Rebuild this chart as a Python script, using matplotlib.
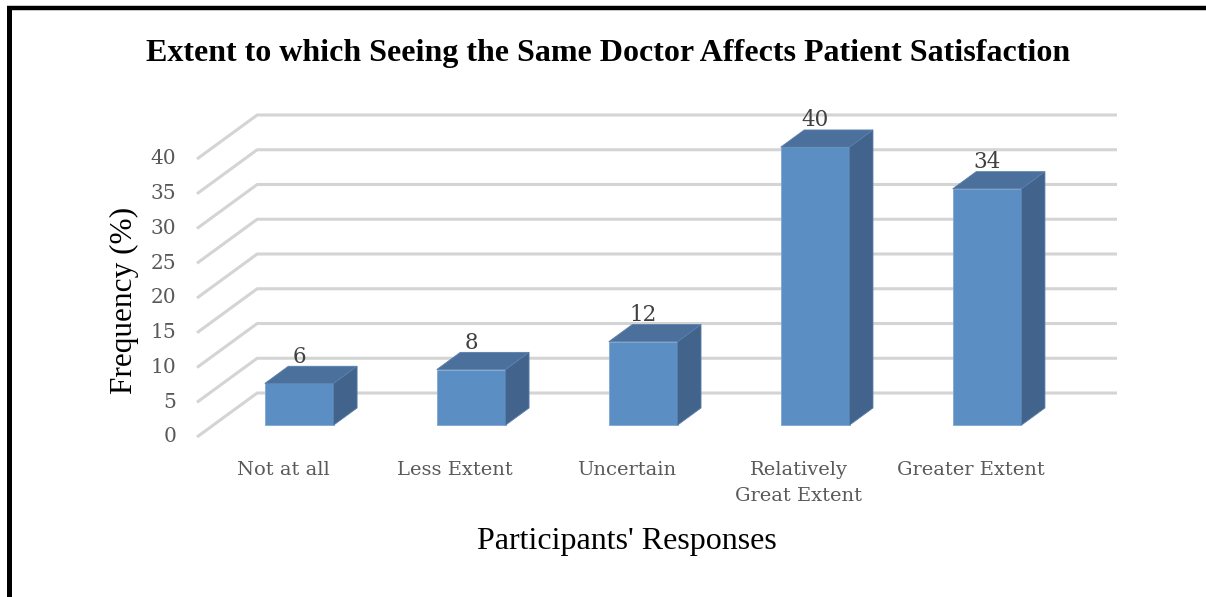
import matplotlib.pyplot as plt
from matplotlib.patches import Polygon
from matplotlib.lines import Line2D
import numpy as np

categories = ['Not at all', 'Less Extent', 'Uncertain', 'Relatively\nGreat Extent', 'Greater Extent']
values = [6, 8, 12, 40, 34]
yticks = [0, 5, 10, 15, 20, 25, 30, 35, 40]

# oblique projection: full depth of the floor in data units
dx = 0.35
dy = 6.33
f0, f1 = 0.27, 0.66   # bar depth (front, back) as a fraction of the floor depth
w = 0.40

front_c = '#5b8fc4'
top_c = '#4a709b'
side_c = '#41638c'
grid_c = '#d4d4d4'
txt_c = '#595959'

fig = plt.figure(figsize=(12.06, 5.97), dpi=100)
ax = fig.add_axes([197 / 1206, 1 - 437 / 597, 920 / 1206, 322 / 597])
ax.set_xlim(-0.5, 4.5 + dx)
ax.set_ylim(0, 40 + dy)
ax.axis('off')

# floor diagonals and back wall lines
for v in yticks:
    ax.plot([-0.5, -0.5 + dx, 4.5 + dx], [v, v + dy, v + dy],
            color=grid_c, lw=2.2, solid_capstyle='butt', clip_on=False, zorder=1)
    ax.annotate(str(v), xy=(-0.5, v), xytext=(-15, 0), textcoords='offset points',
                ha='right', va='center', fontsize=14.5, color=txt_c,
                family='DejaVu Serif', annotation_clip=False)

x = np.arange(len(values))
xf = x + f0 * dx - w / 2
bars = ax.bar(x + f0 * dx, values, width=w, bottom=f0 * dy, color=front_c,
              edgecolor='#7fa6d3', linewidth=0.6, zorder=3)

ddx = (f1 - f0) * dx
ddy = (f1 - f0) * dy
for xl, v in zip(xf, values):
    yb = f0 * dy
    yt = v + f0 * dy
    top = Polygon([(xl, yt), (xl + w, yt), (xl + w + ddx, yt + ddy), (xl + ddx, yt + ddy)],
                  closed=True, facecolor=top_c, edgecolor='#5a80ad', lw=0.6, zorder=3)
    side = Polygon([(xl + w, yb), (xl + w + ddx, yb + ddy), (xl + w + ddx, yt + ddy), (xl + w, yt)],
                   closed=True, facecolor=side_c, edgecolor='#5a80ad', lw=0.6, zorder=3)
    ax.add_patch(top)
    ax.add_patch(side)
    ax.annotate(str(v), xy=(xl + w / 2, yt + ddy), xytext=(0, -1), textcoords='offset points',
                ha='center', va='bottom', fontsize=15.5, color='#404040',
                family='DejaVu Serif', annotation_clip=False, zorder=4)

for i, c in enumerate(categories):
    ax.annotate(c, xy=(i, 0), xytext=(0, -17), textcoords='offset points',
                ha='center', va='top', fontsize=14, color=txt_c, linespacing=1.6,
                family='DejaVu Serif', annotation_clip=False)

fig.text(608 / 1206, 1 - 54 / 597, 'Extent to which Seeing the Same Doctor Affects Patient Satisfaction',
         ha='center', va='center', fontsize=23, fontweight='bold', family='Liberation Serif')
fig.text(627 / 1206, 1 - 542 / 597, "Participants' Responses",
         ha='center', va='center', fontsize=23, family='Liberation Serif')
fig.text(124 / 1206, 1 - 300 / 597, 'Frequency (%)', rotation=90,
         ha='center', va='center', fontsize=22.5, family='Liberation Serif')

# frame (top and left edges)
fig.add_artist(Line2D([7 / 1206, 1], [1 - 8 / 597, 1 - 8 / 597], color='black', lw=3.2,
                      solid_capstyle='butt'))
fig.add_artist(Line2D([9 / 1206, 9 / 1206], [0, 1 - 6.5 / 597], color='black', lw=3.6,
                      solid_capstyle='butt'))

fig.savefig('out.png', dpi=100)
